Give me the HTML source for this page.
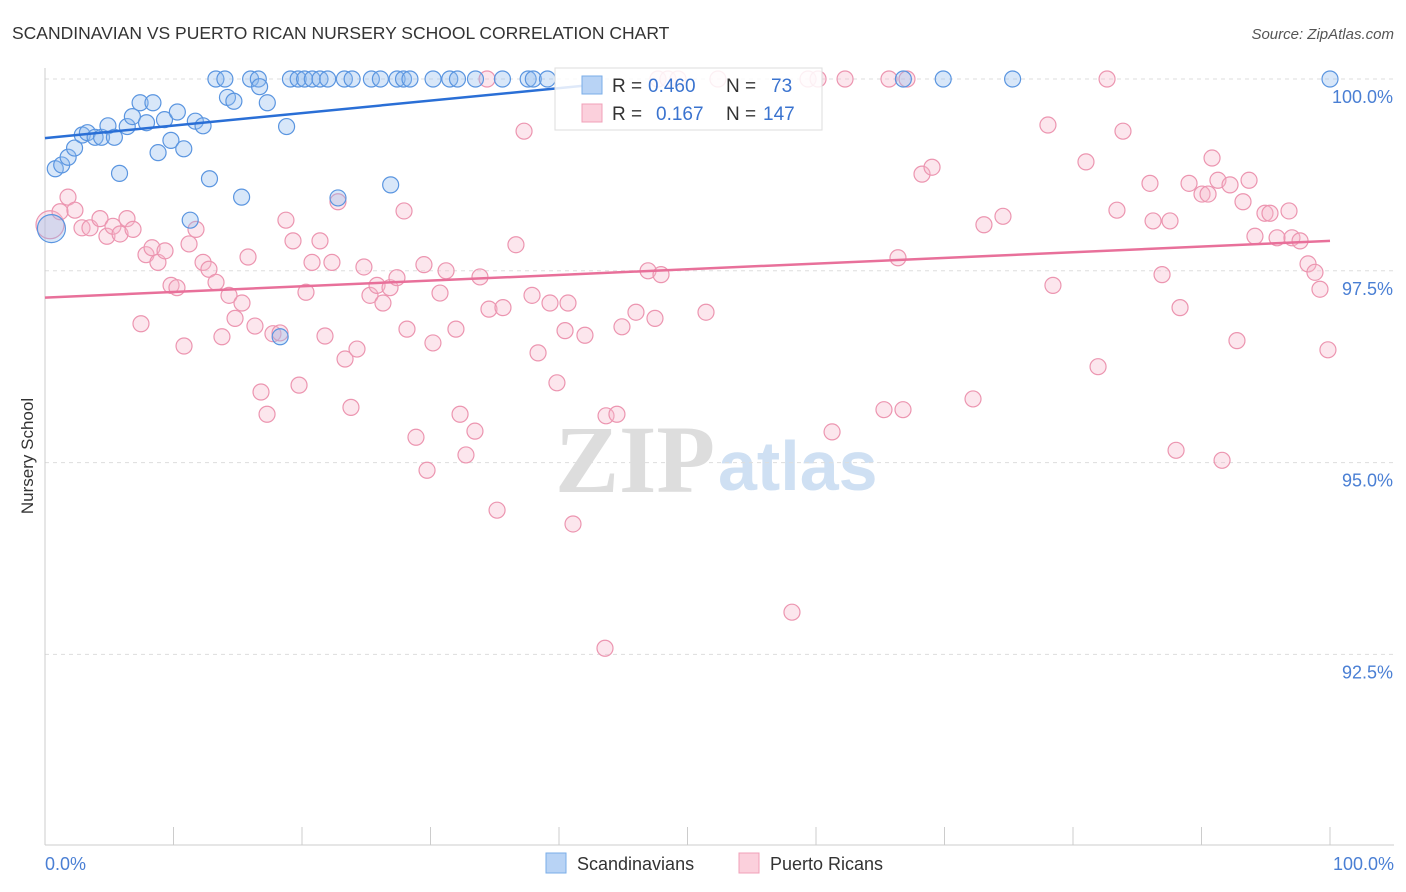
<!DOCTYPE html>
<html><head><meta charset="utf-8">
<style>
body{margin:0;background:#fff;font-family:"Liberation Sans",sans-serif;}
svg{display:block}
</style></head>
<body>
<svg id="chart" width="1406" height="892" xmlns="http://www.w3.org/2000/svg">
<text x="12" y="39" font-size="17.5" fill="#333">SCANDINAVIAN VS PUERTO RICAN NURSERY SCHOOL CORRELATION CHART</text>
<text x="1394" y="39" font-size="15" fill="#555" text-anchor="end" font-style="italic">Source: ZipAtlas.com</text>
<text x="33" y="456" font-size="17" fill="#333" text-anchor="middle" transform="rotate(-90 33 456)">Nursery School</text>
<g>
<text x="555" y="492" font-size="96" fill="#ddd" font-family="Liberation Serif,serif" font-weight="bold">ZIP</text>
<text x="718" y="490" font-size="70" fill="#cfe0f3" font-weight="bold">atlas</text>
</g>
<g id="grid"></g>
<g id="axes"></g>
<g id="pts"></g>
<g id="trends"></g>
<g>
<rect x="555" y="68" width="267" height="62" fill="#fff" fill-opacity="0.85" stroke="#ddd"/>
<rect x="582" y="76" width="20" height="18" fill="#b8d3f5" stroke="#7aaee8"/>
<text x="612" y="92" font-size="19" fill="#333">R = </text><text x="648" y="92" font-size="19" fill="#3a73cf">0.460</text>
<text x="726" y="92" font-size="19" fill="#333">N = </text><text x="771" y="92" font-size="19" fill="#3a73cf">73</text>
<rect x="582" y="104" width="20" height="18" fill="#fbd0dc" stroke="#f0a0b8"/>
<text x="612" y="120" font-size="19" fill="#333">R = </text><text x="656" y="120" font-size="19" fill="#3a73cf">0.167</text>
<text x="726" y="120" font-size="19" fill="#333">N = </text><text x="763" y="120" font-size="19" fill="#3a73cf">147</text>
</g>
<g>
<rect x="546" y="853" width="20" height="20" fill="#b8d3f5" stroke="#7aaee8"/>
<text x="577" y="870" font-size="18" fill="#333">Scandinavians</text>
<rect x="739" y="853" width="20" height="20" fill="#fbd0dc" stroke="#f0a0b8"/>
<text x="770" y="870" font-size="18" fill="#333">Puerto Ricans</text>
</g>
</svg>
<script>
const yTicks=[100,97.5,95,92.5];
const yTickLabels=["100.0%","97.5%","95.0%","92.5%"];
const xTickLabels=["0.0%","100.0%"];
const blueX=[13.3,14,16,16.6,19.1,19.7,20.2,20.8,21.4,22,23.3,23.9,25.4,26.1,27.4,27.9,28.4,30.2,31.5,32.1,33.5,35.6,37.6,38,39.1,66.8,69.9,75.3,100,0.8,1.3,1.8,2.3,2.9,3.3,3.9,4.4,4.9,5.4,5.8,6.4,6.8,7.4,7.9,8.4,8.8,9.3,9.8,10.3,10.8,11.7,12.3,12.8,14.2,14.7,15.3,16.7,17.3,18.8,22.8,26.9,11.3,18.3,0.5];
const blueY=[100,100,100,100,100,100,100,100,100,100,100,100,100,100,100,100,100,100,100,100,100,100,100,100,100,100,100,100,100,98.83,98.88,98.98,99.1,99.27,99.3,99.24,99.24,99.39,99.24,98.77,99.38,99.51,99.69,99.43,99.69,99.04,99.47,99.2,99.57,99.09,99.45,99.39,98.7,99.76,99.71,98.46,99.9,99.69,99.38,98.45,98.62,98.16,96.64,98.05];
const pinkX=[0.39,1.17,1.79,2.33,2.88,3.5,4.28,4.82,5.29,5.84,6.38,6.85,7.47,7.86,8.33,8.79,9.34,9.81,10.27,10.82,11.21,11.75,12.3,12.76,13.31,13.77,14.32,14.79,15.33,15.8,16.34,16.81,17.28,17.74,18.29,18.75,19.3,19.77,20.31,20.78,21.4,21.79,22.33,22.8,23.35,23.81,24.28,24.82,25.29,25.84,26.3,26.85,27.39,27.94,28.17,28.87,29.49,29.73,30.19,30.74,31.21,31.98,32.3,32.76,33.46,33.85,34.55,35.18,35.64,36.65,37.28,37.9,38.37,39.3,39.84,40.47,40.7,41.09,42.02,43.58,43.66,44.51,44.9,45.99,46.93,47.47,47.94,51.44,58.13,61.25,65.29,66.38,66.77,68.25,69.03,72.22,73.07,74.55,78.05,78.44,81.01,81.95,83.42,83.89,85.99,86.23,86.93,87.55,88.02,88.33,89.03,90.04,90.51,90.82,91.28,91.6,92.22,92.76,93.23,93.7,94.16,94.94,95.33,95.88,96.81,97.04,97.67,98.29,98.83,99.22,99.84,34.4,47.7,48.48,49.26,52.37,59.38,60.16,62.26,65.68,67.08,82.65];
const pinkY=[98.1,98.27,98.46,98.29,98.06,98.06,98.18,97.95,98.08,97.98,98.18,98.04,96.81,97.71,97.8,97.61,97.76,97.31,97.28,96.52,97.85,98.04,97.61,97.52,97.35,96.64,97.18,96.88,97.08,97.68,96.78,95.92,95.63,96.68,96.69,98.16,97.89,96.01,97.22,97.61,97.89,96.65,97.61,98.4,96.35,95.72,96.48,97.55,97.18,97.31,97.08,97.28,97.41,98.28,96.74,95.33,97.58,94.9,96.56,97.21,97.5,96.74,95.63,95.1,95.41,97.42,97,94.38,97.02,97.84,99.32,97.18,96.43,97.08,96.04,96.72,97.08,94.2,96.66,92.58,95.61,95.63,96.77,96.96,97.5,96.88,97.45,96.96,93.05,95.4,95.69,97.67,95.69,98.76,98.85,95.83,98.1,98.21,99.4,97.31,98.92,96.25,98.29,99.32,98.64,98.15,97.45,98.15,95.16,97.02,98.64,98.5,98.5,98.97,98.68,95.03,98.62,96.59,98.4,98.68,97.95,98.25,98.25,97.93,98.28,97.93,97.89,97.59,97.48,97.26,96.47,100,100,100,100,100,100,100,100,100,100,100];
const blueTrend=[0,99.23,42.4,99.92];
const pinkTrend=[0,97.15,100,97.89];
const X0=45,X1=1330;
const sx=v=>X0+(X1-X0)*v/100;
const sy=v=>79+(100-v)*76.72;
const NS="http://www.w3.org/2000/svg";
function mk(tag,attrs,parent){const e=document.createElementNS(NS,tag);for(const k in attrs)e.setAttribute(k,attrs[k]);parent.appendChild(e);return e;}
const grid=document.getElementById('grid'),axes=document.getElementById('axes'),pts=document.getElementById('pts'),tr=document.getElementById('trends');
yTicks.forEach((t,i)=>{
  const l=mk('line',{x1:45,x2:1394,y1:sy(t),y2:sy(t),stroke:'#ddd','stroke-dasharray':'4 4'},grid);
  
  
  const tx=mk('text',{x:1393,y:sy(t)+24,'font-size':18,fill:'#4a7fd4','text-anchor':'end'},axes);
  tx.textContent=yTickLabels[i];
  
  
});
const ax=mk('line',{x1:45,x2:45,y1:68,y2:845,stroke:'#ccc'},axes);


const bx=mk('line',{x1:45,x2:1394,y1:845,y2:845,stroke:'#ccc'},axes);


for(let i=0;i<=10;i++){const t=mk('line',{x1:sx(i*10),x2:sx(i*10),y1:827,y2:845,stroke:'#ccc'},axes);

}
[[45,'start',0],[1394,'end',1]].forEach(([x,a,i])=>{const t=mk('text',{x:x,y:870,'font-size':18,fill:'#4a7fd4','text-anchor':a},axes);t.textContent=xTickLabels[i];

});
function plot(xs,ys,fill,stroke,name,bigIdx){
  xs.forEach((x,i)=>{const c=mk('circle',{cx:sx(x),cy:sy(ys[i]),r:i===bigIdx?14:8,fill:fill,'fill-opacity':0.35,stroke:stroke,'stroke-width':1.2},pts);
  
  });
}
plot(pinkX,pinkY,'#f7b8cb','#ec95b0','point-puerto-rican',0);
plot(blueX,blueY,'#8fbbee','#5a95e0','point-scandinavian',blueX.length-1);
const b=mk('line',{x1:sx(blueTrend[0]),y1:sy(blueTrend[1]),x2:sx(blueTrend[2]),y2:sy(blueTrend[3]),stroke:'#2a6fd6','stroke-width':2.5},tr);


const p=mk('line',{x1:sx(pinkTrend[0]),y1:sy(pinkTrend[1]),x2:sx(pinkTrend[2]),y2:sy(pinkTrend[3]),stroke:'#e8709a','stroke-width':2.5},tr);


</script>
</body></html>
